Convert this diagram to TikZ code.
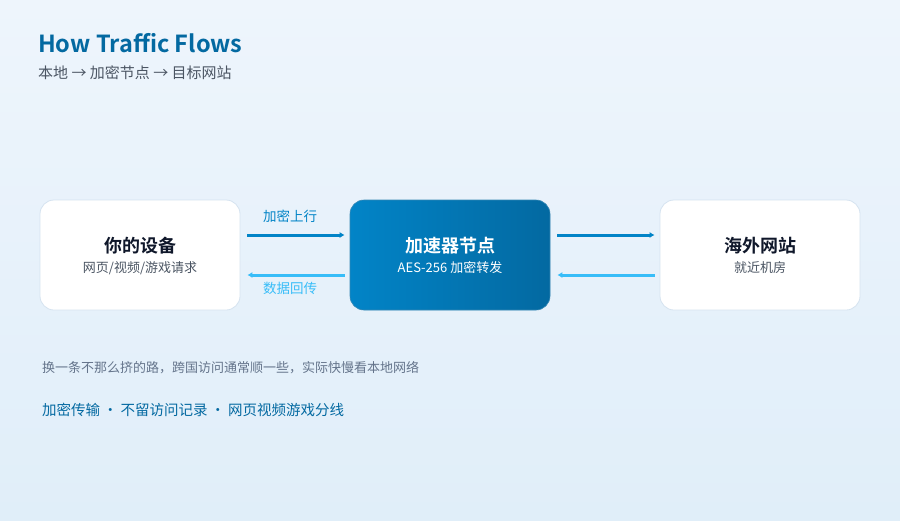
\documentclass[tikz,border=0pt]{standalone}
\usepackage{fontspec}
\setmainfont{Noto Sans CJK SC}[BoldFont={Noto Sans CJK SC Bold}]
\usepackage{xcolor}
\usetikzlibrary{arrows.meta, calc}

\definecolor{bgtop}{HTML}{EEF5FC}
\definecolor{bgbot}{HTML}{E0EEF9}
\definecolor{titleblue}{HTML}{0369A1}
\definecolor{upblue}{HTML}{0284C7}
\definecolor{downblue}{HTML}{38BDF8}
\definecolor{nodeleft}{HTML}{0284C7}
\definecolor{noderight}{HTML}{0369A1}
\definecolor{boxline}{HTML}{D5E3F0}
\definecolor{inkdark}{HTML}{0F172A}
\definecolor{inkgray}{HTML}{4B5563}
\definecolor{notegray}{HTML}{64748B}

\begin{document}
\begin{tikzpicture}[x=1pt, y=-1pt,
    box/.style={rounded corners=14pt, minimum width=200pt, minimum height=110pt, inner sep=0pt},
    whitebox/.style={box, fill=white, draw=boxline, line width=0.8pt},
    hubbox/.style={box, left color=nodeleft, right color=noderight, draw=noderight!80, line width=0.6pt},
    boxtitle/.style={font=\fontsize{18}{21}\selectfont\bfseries, text=inkdark},
    boxsub/.style={font=\fontsize{13}{15}\selectfont, text=inkgray},
    uplink/.style={line width=3pt, draw=upblue, -{Latex[length=5pt,width=6pt]}},
    downlink/.style={line width=3pt, draw=downblue, -{Latex[length=5pt,width=6pt]}},
    linklabel/.style={font=\fontsize{13.5}{15}\selectfont}]
  % ----- Background -----
  \useasboundingbox (0,0) rectangle (900,520);
  \shade[top color=bgtop, bottom color=bgbot] (0,0) rectangle (900,520);

  % ----- Heading -----
  \node[anchor=base west, font=\fontsize{23.5}{28}\selectfont\bfseries, text=titleblue, inner sep=0pt]
    (heading) at (38,52) {How Traffic Flows};
  \node[anchor=base west, font=\fontsize{15}{17}\selectfont, text=inkgray, inner sep=0pt]
    (route) at (38,78) {本地 → 加密节点 → 目标网站};

  % ----- Boxes -----
  \node[whitebox] (device) at (140,255) {};
  \node[hubbox] (hub) at (450,255) {};
  \node[whitebox] (site) at (760,255) {};

  \node[boxtitle] (devicetitle) at ([yshift=9pt]device.center) {你的设备};
  \node[boxsub] (devicesub) at ([yshift=-13pt]device.center) {网页/视频/游戏请求};
  \node[boxtitle, text=white] (hubtitle) at ([yshift=9pt]hub.center) {加速器节点};
  \node[boxsub, text=white] (hubsub) at ([yshift=-13pt]hub.center) {AES-256 加密转发};
  \node[boxtitle] (sitetitle) at ([yshift=9pt]site.center) {海外网站};
  \node[boxsub] (sitesub) at ([yshift=-13pt]site.center) {就近机房};

  % ----- Links -----
  \draw[uplink] ([xshift=7pt,yshift=20pt]device.east) -- ([xshift=-5pt,yshift=20pt]hub.west);
  \draw[downlink] ([xshift=-5pt,yshift=-20pt]hub.west) -- ([xshift=7pt,yshift=-20pt]device.east);
  \draw[uplink] ([xshift=7pt,yshift=20pt]hub.east) -- ([xshift=-5pt,yshift=20pt]site.west);
  \draw[downlink] ([xshift=-5pt,yshift=-20pt]site.west) -- ([xshift=7pt,yshift=-20pt]hub.east);

  \node[linklabel, text=upblue] (uplabel) at ($(device.east)!0.5!(hub.west)+(-5,-39)$) {加密上行};
  \node[linklabel, text=downblue] (downlabel) at ($(device.east)!0.5!(hub.west)+(-5,33)$) {数据回传};

  % ----- Notes -----
  \node[anchor=base west, font=\fontsize{13}{15}\selectfont, text=notegray, inner sep=0pt]
    (note) at (42,372) {换一条不那么挤的路，跨国访问通常顺一些，实际快慢看本地网络};
  \node[anchor=base west, font=\fontsize{14.5}{17}\selectfont, text=titleblue, inner sep=0pt]
    (features) at (42,415) {加密传输\hspace{3pt}·\hspace{3pt}不留访问记录\hspace{3pt}·\hspace{3pt}网页视频游戏分线};
\end{tikzpicture}
\end{document}
